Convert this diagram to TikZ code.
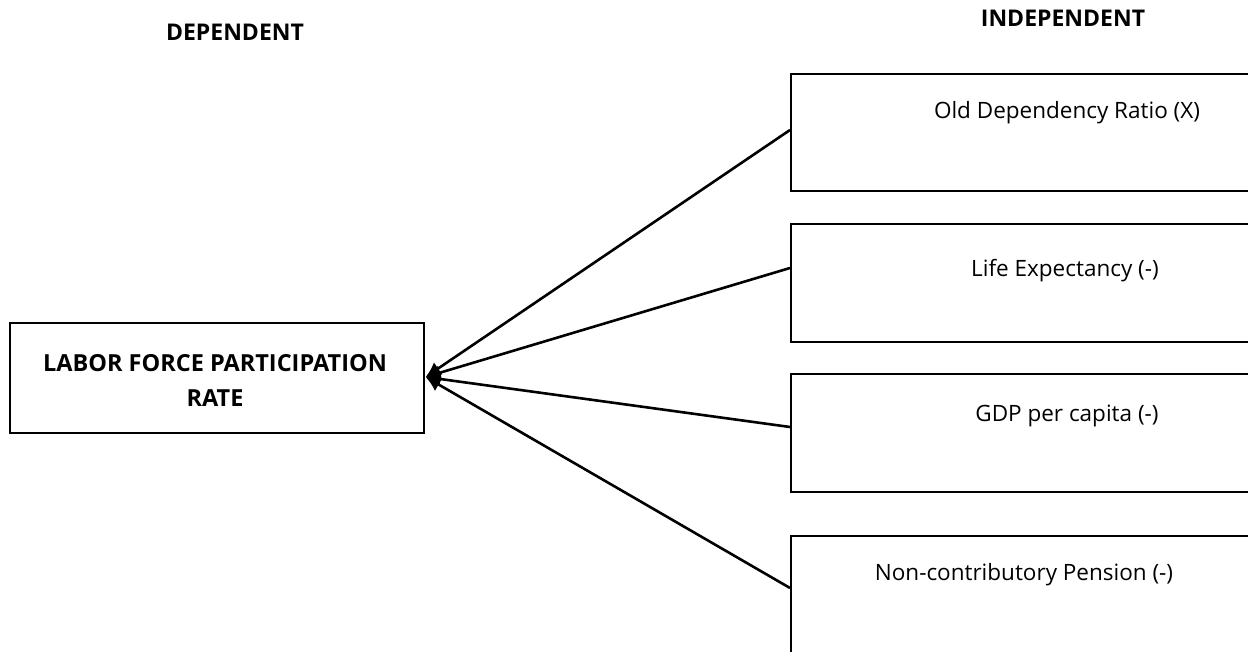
\documentclass[tikz,border=0pt]{standalone}
\usepackage{fontspec}
\setmainfont{Open Sans}
\usetikzlibrary{arrows.meta,calc}
\tikzset{
  box/.style={draw=black, line width=1.6pt, rectangle, inner sep=0pt},
  lbl/.style={font=\fontsize{22.5}{27}\selectfont, inner sep=0pt, anchor=base},
  hdr/.style={font=\bfseries\fontsize{23}{28}\selectfont, inner sep=0pt, anchor=base},
  conn/.style={line width=2.6pt, -{Latex[length=15pt,width=15pt]}}
}
\begin{document}
\begin{tikzpicture}[x=1pt,y=-1pt]
\useasboundingbox (0,0) rectangle (1248,652);
\fill[white] (0,0) rectangle (1248,652);
\clip (0,0) rectangle (1248,652);
% headers
\node[hdr] (dep) at (235,41) {DEPENDENT};
\node[hdr] (indep) at (1063,27) {INDEPENDENT};
% dependent box
\node[box, minimum width=414pt, minimum height=110pt, anchor=north west] (lfpr) at (9,322) {};
\node[hdr, align=center, anchor=center, font=\bfseries\fontsize{23.5}{35}\selectfont] (lfprt) at (215,380) {LABOR FORCE PARTICIPATION\\RATE};
% independent boxes
\node[box, minimum width=554pt, minimum height=117pt, anchor=north west] (b1) at (790,73) {};
\node[box, minimum width=554pt, minimum height=118pt, anchor=north west] (b2) at (790,223) {};
\node[box, minimum width=554pt, minimum height=118pt, anchor=north west] (b3) at (790,373) {};
\node[box, minimum width=554pt, minimum height=130pt, anchor=north west] (b4) at (790,535) {};
\node[lbl] (t1) at (1067,119) {Old Dependency Ratio (X)};
\node[lbl] (t2) at (1065,277) {Life Expectancy (-)};
\node[lbl] (t3) at (1067,421) {GDP per capita (-)};
\node[lbl] (t4) at (1024,580) {Non-contributory Pension (-)};
% connectors
\coordinate (tip) at ($(lfpr.north east)+(1,55)$);
\draw[conn] ($(b1.north west)+(0,57)$) -- (tip);
\draw[conn] ($(b2.north west)+(0,45)$) -- (tip);
\draw[conn] ($(b3.north west)+(0,54)$) -- (tip);
\draw[conn] ($(b4.north west)+(0,53)$) -- (tip);
\end{tikzpicture}
\end{document}
